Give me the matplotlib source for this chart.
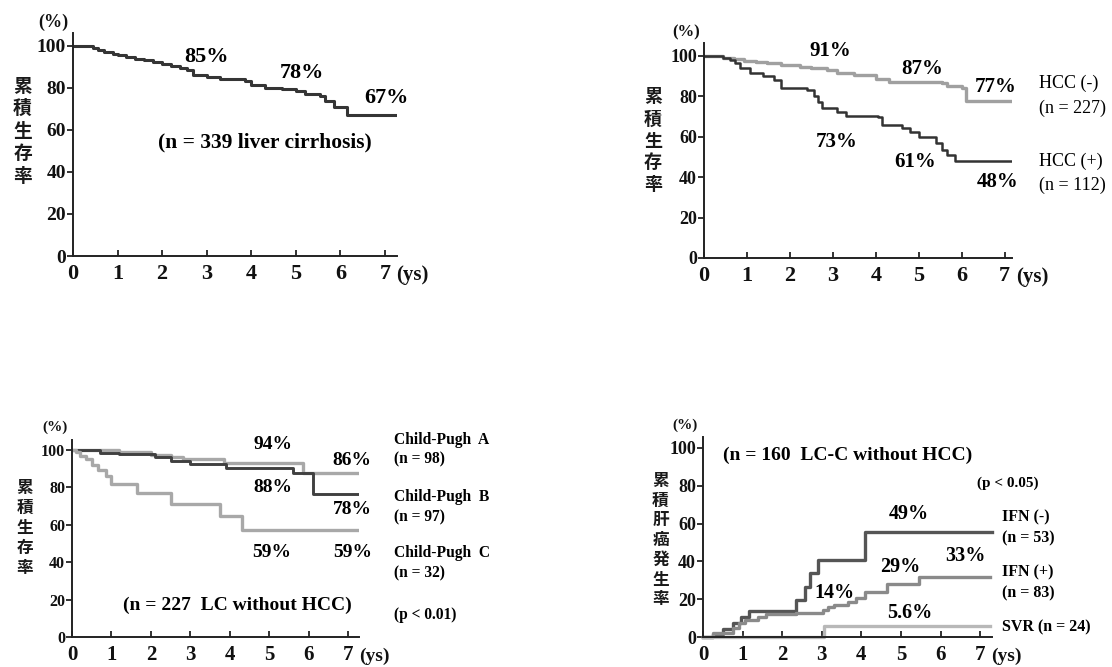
import matplotlib
matplotlib.use("Agg")
import matplotlib.pyplot as plt

# ---------------- data ----------------
# Panel 1: overall survival, liver cirrhosis (n=339)
lc_t = [0, 0.45, 0.55, 0.7, 0.9, 1.0, 1.2, 1.4, 1.6, 1.8, 2.0, 2.2, 2.4, 2.55, 2.7, 3.0, 3.3, 3.7,
        3.85, 4.0, 4.3, 4.7, 5.0, 5.2, 5.55, 5.65, 5.85, 6.1, 6.15, 7.25]
lc_s = [100, 99, 98, 97, 96, 95.5, 94.5, 93.5, 93, 92, 91.5, 90.5, 89.5, 88.5, 86, 85, 84, 84,
        83, 81.5, 80, 79.5, 78.5, 77, 76, 73.5, 71, 71, 67, 67]
lc_labels = ["85%", "78%", "67%"]

# Panel 2: HCC (-) / HCC (+)
hccneg_t = [0, 0.45, 0.7, 0.92, 1.2, 1.46, 1.8, 2.24, 2.5, 2.86, 3.1, 3.5, 4.0, 4.3, 5.55, 5.65,
            6.0, 6.1, 7.17]
hccneg_s = [100, 99, 98.5, 97.7, 97, 96.4, 95.5, 94.7, 94, 93, 91.5, 90.8, 88.5, 87, 86.5, 85,
            84, 77.5, 77.5]
hccpos_t = [0, 0.45, 0.6, 0.72, 0.84, 1.07, 1.38, 1.62, 1.8, 2.4, 2.55, 2.65, 2.75, 3.1, 3.3,
            4.05, 4.15, 4.6, 4.8, 5.0, 5.4, 5.55, 5.65, 5.85, 7.17]
hccpos_s = [100, 99, 98, 96.5, 94, 91.5, 90, 88, 84, 83, 80, 77, 74, 72.5, 70.5,
            70, 66, 64.5, 62.5, 60, 57, 53.5, 51, 48, 48]
hcc_names = ["HCC (-)", "(n = 227)", "HCC (+)", "(n = 112)"]

# Panel 3: Child-Pugh A / B / C
cpa_t = [0, 1.2, 2.0, 2.5, 2.8, 3.85, 5.85, 7.27]
cpa_s = [100, 99, 97.5, 96, 95, 93, 87.5, 87.5]
cpb_t = [0, 0.7, 1.2, 2.1, 2.5, 3.0, 3.9, 5.6, 6.1, 7.27]
cpb_s = [100, 98.6, 97.7, 96, 94.3, 92.5, 90.2, 87.5, 76.5, 76.5]
cpc_t = [0, 0.1, 0.2, 0.35, 0.5, 0.65, 0.85, 1.0, 1.65, 2.5, 3.75, 4.3, 7.28]
cpc_s = [100, 99, 97, 95, 92, 89, 86, 82, 77, 71, 64.5, 57, 57]
cp_names = ["Child-Pugh  A", "(n = 98)", "Child-Pugh  B", "(n = 97)",
            "Child-Pugh  C", "(n = 32)", "(p < 0.01)"]

# Panel 4: cumulative HCC incidence, IFN (-) / IFN (+) / SVR
ifnneg_t = [0, 0.26, 0.5, 0.77, 0.97, 1.15, 2.36, 2.57, 2.7, 2.9, 4.08, 7.29]
ifnneg_s = [0, 1.5, 4, 7.2, 10.8, 14, 19.6, 26.6, 33.7, 40.7, 55.4, 55.4]
ifnpos_t = [0, 0.25, 0.77, 0.9, 1.06, 1.4, 1.6, 2.35, 3.03, 3.15, 3.3, 3.66, 3.87, 4.08,
            4.65, 5.45, 7.25]
ifnpos_s = [0, 2, 4.6, 7.2, 9, 10.8, 12, 12.5, 14.3, 15.7, 17, 18.7, 20.5, 24,
            27.9, 31.5, 31.5]
svr_t = [0, 3.05, 7.25]
svr_s = [0, 6, 6]
ifn_names = ["IFN (-)", "(n = 53)", "IFN (+)", "(n = 83)", "SVR (n = 24)"]

xticks = [0, 1, 2, 3, 4, 5, 6, 7]
yticks = [0, 20, 40, 60, 80, 100]

# ---------------- style ----------------
SERIF = ["Liberation Serif", "DejaVu Serif"]
CJK = ["Noto Sans CJK JP", "DejaVu Sans"]
plt.rcParams["font.family"] = SERIF
plt.rcParams["font.weight"] = "bold"

W, H = 1112, 667
fig = plt.figure(figsize=(W / 100, H / 100), dpi=100)


def make_ax(left_px, right_px, bottom_px, top_px, xmax, ymax, xtsize=16, ytsize=13):
    ax = fig.add_axes([left_px / W, 1 - bottom_px / H,
                       (right_px - left_px) / W, (bottom_px - top_px) / H])
    ax.set_xlim(0, xmax)
    ax.set_ylim(0, ymax)
    for s in ["top", "right"]:
        ax.spines[s].set_visible(False)
    for s in ["left", "bottom"]:
        ax.spines[s].set_linewidth(1.4)
        ax.spines[s].set_color("#222222")
    ax.set_xticks(xticks)
    ax.set_yticks(yticks)
    ax.tick_params(axis="x", direction="in", length=4, width=1.2, pad=6,
                   labelsize=xtsize, colors="#111111")
    ax.tick_params(axis="y", direction="out", length=4, width=1.2, pad=1,
                   labelsize=ytsize, colors="#111111")
    for lab in ax.get_xticklabels() + ax.get_yticklabels():
        lab.set_fontweight("bold")
    ax.annotate("(ys)", xy=(7, 0), xycoords="data", xytext=(11, -19),
                textcoords="offset pixels", ha="left", va="center",
                fontsize=xtsize - 1, fontweight="bold", color="#111111")
    ax.patch.set_alpha(0)
    return ax


def vlabel(chars, x_px, y0_px, step_px, size):
    for i, ch in enumerate(chars):
        fig.text(x_px / W, 1 - (y0_px + i * step_px) / H, ch, ha="center", va="center",
                 fontsize=size, family=CJK, fontweight="bold", color="#1a1a1a")


def pct(x_px, y_px, s, size=12):
    fig.text(x_px / W, 1 - y_px / H, s, ha="center", va="center", fontsize=size,
             fontweight="bold", color="#111111")


# ---------------- panel 1 ----------------
ax1 = make_ax(73, 397, 256, 33, 7.27, 106, xtsize=16, ytsize=14)
ax1.step(lc_t, lc_s, where="post", color="#353535", lw=2.2)
for (x, y), s in zip([(3.0, 94.5), (5.13, 87), (7.04, 75)], lc_labels):
    ax1.text(x, y, s, ha="center", va="center", fontsize=16, fontweight="bold", clip_on=False)
ax1.text(4.3, 54, "(n = 339 liver cirrhosis)", ha="center", va="center", fontsize=15.5,
         fontweight="bold")
pct(53, 22, "(%)", size=13)
vlabel("累積生存率", 22.5, 86, 22.6, 13.5)

# ---------------- panel 2 ----------------
ax2 = make_ax(704, 1012, 258, 43, 7.17, 106.4, xtsize=16, ytsize=13)
ax2.step(hccneg_t, hccneg_s, where="post", color="#a0a0a0", lw=2.4)
ax2.step(hccpos_t, hccpos_s, where="post", color="#333333", lw=1.8)
for (x, y, s) in [(2.94, 102.5, "91%"), (5.08, 93.5, "87%"), (6.8, 84.6, "77%"),
                  (3.1, 57.4, "73%"), (4.92, 47.5, "61%"), (6.83, 37.6, "48%")]:
    ax2.text(x, y, s, ha="center", va="center", fontsize=15, fontweight="bold", clip_on=False)
for (y, s) in zip([86.6, 74.3, 48, 36.1], hcc_names):
    ax2.text(7.79, y, s, ha="left", va="center", fontsize=13, fontweight="normal",
             clip_on=False)
pct(686, 32, "(%)", size=12)
vlabel("累積生存率", 653, 97, 22, 13)

# ---------------- panel 3 ----------------
ax3 = make_ax(72, 359, 637, 440, 7.27, 105.3, xtsize=15, ytsize=11.5)
ax3.step(cpa_t, cpa_s, where="post", color="#a8a8a8", lw=2.4)
ax3.step(cpb_t, cpb_s, where="post", color="#404040", lw=2.1)
ax3.step(cpc_t, cpc_s, where="post", color="#a8a8a8", lw=2.4)
for (x, y, s) in [(5.08, 102.7, "94%"), (7.1, 94.6, "86%"), (5.1, 79.7, "88%"),
                  (7.1, 68, "78%"), (5.07, 45, "59%"), (7.1, 45, "59%")]:
    ax3.text(x, y, s, ha="center", va="center", fontsize=14, fontweight="bold", clip_on=False)
ax3.text(4.2, 17, "(n = 227  LC without HCC)", ha="center", va="center", fontsize=14,
         fontweight="bold")
for (y, s) in zip([105.3, 94.7, 74.9, 64.2, 44.9, 34.2, 11.8], cp_names):
    ax3.text(8.15, y, s, ha="left", va="center", fontsize=11.2, fontweight="bold",
             clip_on=False)
pct(55, 427, "(%)", size=11)
vlabel("累積生存率", 25, 488, 20, 12)

# ---------------- panel 4 ----------------
ax4 = make_ax(703, 992, 637, 437, 7.3, 105.8, xtsize=15, ytsize=13)
ax4.step(ifnneg_t, ifnneg_s, where="post", color="#555555", lw=2.4, clip_on=False)
ax4.step(ifnpos_t, ifnpos_s, where="post", color="#8a8a8a", lw=2.4, clip_on=False)
ax4.step(svr_t, svr_s, where="post", color="#b8b8b8", lw=2.4, clip_on=False)
ax4.text(3.66, 96.3, "(n = 160  LC-C without HCC)", ha="center", va="center", fontsize=14,
         fontweight="bold")
ax4.text(7.7, 81.5, "(p < 0.05)", ha="center", va="center", fontsize=11, fontweight="bold",
         clip_on=False)
for (x, y, s) in [(5.2, 65, "49%"), (6.62, 42.9, "33%"), (4.97, 37, "29%"),
                  (3.33, 23.3, "14%"), (5.23, 12.7, "5.6%")]:
    ax4.text(x, y, s, ha="center", va="center", fontsize=14.5, fontweight="bold",
             clip_on=False)
for (y, s) in zip([63.5, 52.4, 34.4, 23.3, 5.3], ifn_names):
    ax4.text(7.55, y, s, ha="left", va="center", fontsize=11.5, fontweight="bold",
             clip_on=False)
pct(685, 425, "(%)", size=11)
vlabel("累積肝癌発生率", 660.5, 481, 19.7, 12)

fig.savefig("out.png", dpi=100, facecolor="white")
